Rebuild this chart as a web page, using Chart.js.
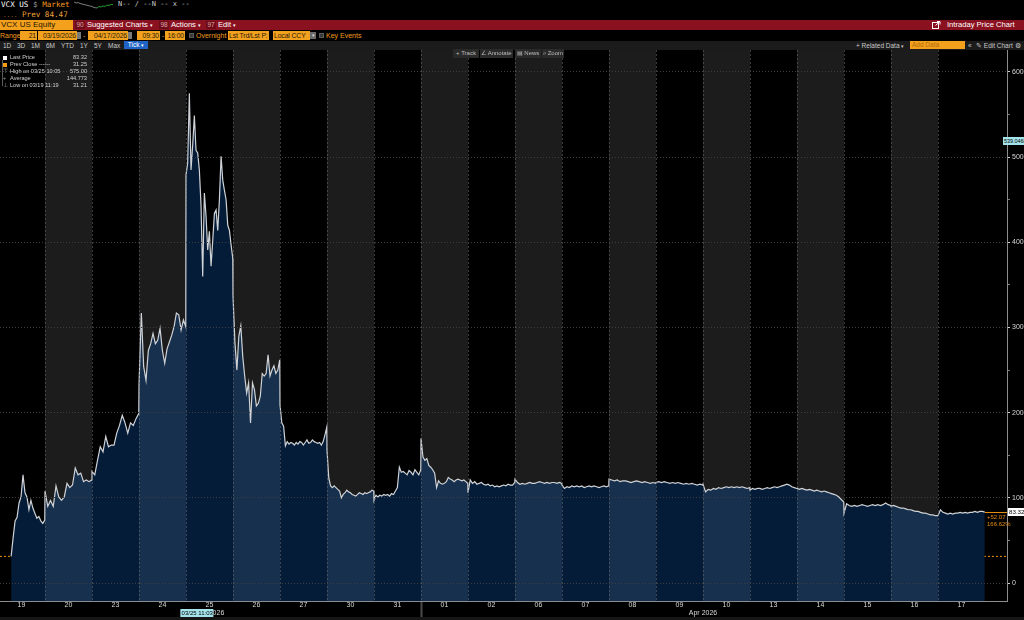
<!DOCTYPE html>
<html><head><meta charset="utf-8"><title>VCX US Intraday Price Chart</title>
<script src="https://cdn.jsdelivr.net/npm/chart.js@4.4.1/dist/chart.umd.min.js"></script>
<style>
html,body{margin:0;padding:0;background:#000}
body{width:1024px;height:620px;overflow:hidden;position:relative;font-family:'Liberation Sans',Arial,sans-serif}
.a{position:absolute;white-space:nowrap;line-height:1}
.m{font-family:'DejaVu Sans Mono',monospace}
.ob{position:absolute;top:31px;height:9px;background:#f2a11f;color:#2a1a05;font-size:6.8px;line-height:9px;text-align:right;padding:0 1px;white-space:nowrap;box-sizing:border-box;overflow:hidden;letter-spacing:-0.1px}
.ic{position:absolute;top:32px;width:4px;height:7px;background:#7a7a7a}
.or{position:absolute;top:31px;color:#f29b1c;font-size:7px;line-height:9px;white-space:nowrap}
.cb{position:absolute;top:33px;width:5px;height:5px;background:#3a3a3a;box-sizing:border-box;border:1px solid #5a5a5a}
.t5{position:absolute;top:42px;font-size:6.5px;color:#c9c9c9;line-height:7px;white-space:nowrap}
.btn{position:absolute;top:49px;height:9px;background:#2a2a2a;color:#bdbdbd;font-size:6px;line-height:9px;text-align:center;white-space:nowrap}
.tag{position:absolute;top:21px;height:8px;background:#6c0c18;color:#e3a7ae;font-size:6.5px;line-height:8px;text-align:center}
.rb{position:absolute;top:20px;font-size:7.6px;line-height:10px;color:#fff;white-space:nowrap}
.lg{position:absolute;left:0;font-size:5.6px;color:#d0d0d0;line-height:7px;width:87px;height:7px;white-space:nowrap}
.lg .k{position:absolute;left:10px;top:0}
.lg .v{position:absolute;right:0;top:0}
.lg .s{position:absolute;left:3px;top:2px;width:4px;height:4px}
.lg .g{position:absolute;left:3px;top:0;color:#9a9a9a}
#wrap{position:absolute;left:0;top:50px;width:1024px;height:570px}
.lab{position:absolute;white-space:nowrap;line-height:8px;font-size:6.6px}
</style></head>
<body>
<!-- header row 1 -->
<div class="a m" style="left:1px;top:1px;font-size:7.6px;color:#fff">VCX US <span style="color:#9a9a9a">$</span> <span style="color:#f39a1e">Market</span></div>
<svg class="a" style="left:73px;top:0" width="46" height="11"><polyline fill="none" stroke="#9a9a9a" stroke-width="0.8" points="1,2 3,3 5,2.5 7,3.5 9,4 11,4.5 13,5 15,5.5 17,6 19,6.5 21,7.5 24,8"/><polyline fill="none" stroke="#2fbf3a" stroke-width="0.8" points="24,8 26,6.5 28,7 30,6 32,6.5 34,5 36,5.5 38,4.5 40,4.5"/></svg>
<div class="a m" style="left:118px;top:1px;font-size:7px;color:#c8c8c8">N-- / --N -- x --</div>
<div class="a m" style="left:3px;top:12px;font-size:6px;color:#b0701a">....</div>
<div class="a m" style="left:22px;top:11px;font-size:7.6px;color:#f0a13a">Prev 84.47</div>
<!-- red bar -->
<div class="a" style="left:0;top:20px;width:1024px;height:10px;background:#8a1120"></div>
<div class="a" style="left:0;top:20px;width:73px;height:10px;background:#f3a11d;color:#1d1406;font-size:8px;line-height:10px;padding-left:1px;box-sizing:border-box">VCX US Equity</div>
<div class="tag" style="left:75px;width:10px">90</div>
<div class="rb" style="left:87px">Suggested Charts <span style="font-size:5px">▾</span></div>
<div class="tag" style="left:159px;width:10px">98</div>
<div class="rb" style="left:171px">Actions <span style="font-size:5px">▾</span></div>
<div class="tag" style="left:206px;width:10px">97</div>
<div class="rb" style="left:218px">Edit <span style="font-size:5px">▾</span></div>
<svg class="a" style="left:932px;top:21px" width="9" height="8"><rect x="0.5" y="1.5" width="6" height="6" fill="none" stroke="#fff" stroke-width="1"/><path d="M3.5 4.5 L8 0.5 M5 0.5 H8 V3.5" stroke="#fff" stroke-width="1" fill="none"/></svg>
<div class="rb" style="left:947px">Intraday Price Chart</div>
<!-- row 4 -->
<div class="or" style="left:0">Range</div>
<div class="ob" style="left:20px;width:17px">21</div>
<div class="ob" style="left:38px;width:39px">03/19/2026</div><div class="ic" style="left:77px"></div>
<div class="or" style="left:83px">-</div>
<div class="ob" style="left:88px;width:40px">04/17/2026</div><div class="ic" style="left:128px"></div>
<div class="ob" style="left:137px;width:23px">09:30</div>
<div class="or" style="left:162px">-</div>
<div class="ob" style="left:165px;width:20px">16:00</div>
<div class="cb" style="left:189px"></div><div class="or" style="left:196px">Overnight</div>
<div class="ob" style="left:228px;width:41px;text-align:left">Lst Trd/Lst P:</div>
<div class="ob" style="left:273px;width:37px;text-align:left">Local CCY</div><div class="ic" style="left:310px;width:6px;background:#6a6a6a;color:#ddd;font-size:5px;line-height:7px;text-align:center">▾</div>
<div class="cb" style="left:319px"></div><div class="or" style="left:326px">Key Events</div>
<!-- row 5 -->
<div class="a" style="left:0;top:41px;width:1024px;height:9px;background:#1b1b1b"></div>
<div class="t5" style="left:3px">1D</div><div class="t5" style="left:17px">3D</div><div class="t5" style="left:31px">1M</div><div class="t5" style="left:46px">6M</div><div class="t5" style="left:61px">YTD</div><div class="t5" style="left:80px">1Y</div><div class="t5" style="left:94px">5Y</div><div class="t5" style="left:108px">Max</div>
<div class="a" style="left:124px;top:41px;width:24px;height:8px;background:#1f64c4;color:#fff;font-size:6.5px;line-height:8px;text-align:center">Tick <span style="font-size:5px">▾</span></div>
<div class="t5" style="left:856px">+ Related Data <span style="font-size:5px">▾</span></div>
<div class="a" style="left:910px;top:41px;width:55px;height:8px;background:#f3a11d;color:#b06a10;font-size:6.5px;line-height:8px;padding-left:2px;box-sizing:border-box">Add Data</div>
<div class="t5" style="left:968px">«</div>
<div class="t5" style="left:976px">✎ Edit Chart</div>
<div class="t5" style="left:1015px">⚙</div>

<div id="wrap"><canvas id="c"></canvas></div>

<!-- chart tools -->
<div class="btn" style="left:453px;width:26px">+ Track</div>
<div class="btn" style="left:480px;width:33px">∠ Annotate</div>
<div class="btn" style="left:515px;width:26px">▤ News</div>
<div class="btn" style="left:542px;width:22px">⌕ Zoom</div>

<!-- legend -->
<div class="a" style="left:2px;top:60px;width:1px;height:26px;background:#5a5a5a"></div>
<div class="lg" style="top:54px"><span class="s" style="background:#fff"></span><span class="k">Last Price</span><span class="v">83.32</span></div>
<div class="lg" style="top:61px"><span class="s" style="background:#f39c12"></span><span class="k">Prev Close ------</span><span class="v">31.25</span></div>
<div class="lg" style="top:68px"><span class="g">⊤</span><span class="k">High on 03/25 10:05</span><span class="v">575.00</span></div>
<div class="lg" style="top:75px"><span class="g">+</span><span class="k">Average</span><span class="v">144.773</span></div>
<div class="lg" style="top:82px"><span class="g">⊥</span><span class="k">Low on 03/19 11:19</span><span class="v">31.21</span></div>

<!-- axis annotations, positioned from the scales -->
<div id="mon0" class="lab" style="color:#d8d8d8;font-size:7px"></div>
<div id="mon1" class="lab" style="color:#d8d8d8;font-size:7px"></div>
<div id="xhairT" class="lab" style="background:#a5e3ec;color:#000;padding:0 1px;font-size:6px"></div>
<div id="xhairV" class="lab" style="background:#a5e3ec;color:#000;padding:0 1px;font-size:5.4px;width:22px;overflow:hidden;box-sizing:border-box"></div>
<div id="lastLab" class="lab" style="background:#fff;color:#000;padding:0 1px;left:1008px;width:16px;overflow:hidden;box-sizing:border-box;font-size:6.2px"></div>
<div id="chgLab" class="lab" style="color:#e48c10;left:987px;font-size:6px"></div>
<div id="pctLab" class="lab" style="color:#e48c10;left:987px;font-size:6px"></div>

<script>
// ---- categories / labels ----
const dayLabels = ['19','20','23','24','25','26','27','30','31','01','02','06','07','08','09','10','13','14','15','16','17'];
const monthLabels = ['Mar 2026','Apr 2026'];
const monthFirstDay = [0, 9];
const sessionOpen = '09:30';
const firstTradeTime = '11:19';
const yTickValues = [0,50,100,150,200,250,300,350,400,450,500,550,600];

// ---- key values ----
const prevClose = 31.25;
const lastPrice = 83.32;
const netChange = '+52.07';
const pctChange = '166.62%';
const crosshairDay = 4, crosshairTime = '11:03', crosshairDate = '03/25 11:03';
const crosshairText = '539.0468', crosshairLevel = 519;

// ---- price series, one array per session (tick data sampled) ----
const d0319 = [31.21, 53, 73, 77, 94, 101, 127, 106, 101, 86, 97, 88, 82, 76, 78, 73, 70, 74];
const d0320 = [108, 90, 97, 90, 114, 101, 97, 101, 117, 112, 115, 135, 127, 129, 119, 121, 119, 121];
const d0323 = [131, 127, 144, 160, 154, 172, 160, 162, 162, 176, 185, 197, 188, 176, 188, 185, 193, 199];
const d0324 = [232, 317, 254, 238, 273, 281, 293, 281, 285, 299, 273, 258, 275, 283, 291, 301, 317, 315, 297, 309, 301];
const d0325 = [479, 493, 575, 485, 514, 549, 508, 505, 485, 443, 360, 458, 431, 391, 413, 372, 402, 434, 438, 414, 450, 501, 473, 461, 450, 420, 414, 397, 381];
const d0326 = [337, 282, 250, 290, 302, 266, 243, 223, 235, 188, 235, 227, 208, 211, 219, 246, 243, 246, 268, 243, 250, 255, 246, 250, 262];
const d0327 = [209, 188, 184, 161, 166, 163, 165, 164, 162, 165, 163, 166, 165, 162, 165, 168, 164, 165, 168, 166, 165, 164, 165, 162, 166, 174, 183];
const d0330 = [156, 123, 114, 112, 114, 112, 110, 108, 100, 104, 106, 109, 107, 106, 104, 103, 102, 104, 106, 105, 104, 106, 105, 106, 107, 109, 108];
const d0331 = [97, 103, 101, 103, 102, 104, 103, 104, 102, 105, 104, 108, 112, 136, 130, 131, 129, 127, 132, 130, 127, 133, 130, 127, 133];
const d0401 = [170, 148, 144, 146, 138, 136, 133, 129, 112, 120, 117, 116, 117, 119, 124, 122, 121, 119, 121, 122, 121, 120, 121, 119, 117];
const d0402 = [106, 121, 117, 119, 116, 117, 118, 116, 115, 116, 114, 115, 113, 114, 113, 114, 115, 114, 116, 115, 115, 118];
const d0406 = [122, 118, 116, 117, 116, 117, 118, 117, 117, 118, 119, 118, 117, 118, 117, 118, 118, 117, 118, 117];
const d0407 = [115, 111, 113, 112, 114, 113, 114, 113, 114, 112, 113, 114, 113, 114, 113, 112, 113, 114, 113, 114];
const d0408 = [122, 121, 120, 121, 119, 120, 120, 119, 118, 119, 120, 119, 118, 119, 118, 117, 118, 117];
const d0409 = [118, 119, 118, 119, 118, 117, 118, 117, 118, 117, 116, 117, 116, 117, 116, 115, 116, 115];
const d0410 = [116, 107, 110, 109, 111, 110, 112, 111, 112, 113, 112, 113, 112, 113, 112, 113, 112, 111, 112];
const d0413 = [109, 111, 110, 111, 111, 110, 111, 112, 111, 112, 113, 112, 113, 114, 115, 116, 115, 113, 112, 111];
const d0414 = [111, 110, 111, 110, 109, 110, 109, 108, 109, 108, 107, 108, 107, 106, 105, 104, 103, 101, 98, 95];
const d0415 = [82, 93, 91, 90, 91, 90, 91, 92, 91, 90, 91, 92, 91, 92, 91, 92, 94, 92, 91];
const d0416 = [90, 91, 90, 89, 88, 88, 87, 86, 86, 85, 84, 84, 83, 82, 82, 81, 80, 80, 79, 79];
const d0417 = [79, 86, 83, 82, 81, 82, 81, 82, 82, 83, 82, 83, 82, 83, 83, 84, 83, 84, 84, 83.32];
const sessions = [d0319,d0320,d0323,d0324,d0325,d0326,d0327,d0330,d0331,d0401,d0402,d0406,d0407,d0408,d0409,d0410,d0413,d0414,d0415,d0416,d0417];

// ---- build points in "session units" (1 unit = one 09:30-16:00 session) ----
function sessionFrac(t){ const p=t.split(':').map(Number); const o=sessionOpen.split(':').map(Number); return ((p[0]*60+p[1])-(o[0]*60+o[1]))/390; }
const pricePoints = [];
sessions.forEach((vals, i) => {
  const s = i === 0 ? sessionFrac(firstTradeTime) : 0, e = 0.995;
  vals.forEach((v, j) => pricePoints.push({x: i + s + (e - s) * j / (vals.length - 1), y: v}));
});

// view window
const X_MIN = 2/47, X_MAX = 21 + 22/47;
const Y_MIN = -21.13, Y_MAX = 625.83;

const FILL_DARK = '#041c38', FILL_LIGHT = '#17304d', STRIPE = '#1c1c1c';

function stripeFill(context){
  const chart = context.chart, area = chart.chartArea, xs = chart.scales.x;
  if (!area || !xs) return FILL_DARK;
  const g = chart.ctx.createLinearGradient(area.left, 0, area.right, 0);
  const w = area.right - area.left;
  const cl = v => Math.min(Math.max(v, 0), 1);
  for (let i = 0; i < dayLabels.length; i++) {
    const c = i % 2 ? FILL_LIGHT : FILL_DARK;
    g.addColorStop(cl((xs.getPixelForValue(i) - area.left) / w), c);
    g.addColorStop(cl((xs.getPixelForValue(i + 1) - area.left) / w), c);
  }
  return g;
}

const stripes = {
  id: 'stripes',
  beforeDatasetsDraw(chart){
    const {ctx, chartArea: a, scales: {x}} = chart;
    ctx.save();
    ctx.fillStyle = '#000'; ctx.fillRect(a.left, a.top, a.right - a.left, a.bottom - a.top);
    ctx.fillStyle = STRIPE;
    for (let i = 1; i < dayLabels.length; i += 2) {
      const x0 = Math.max(x.getPixelForValue(i), a.left), x1 = Math.min(x.getPixelForValue(i + 1), a.right);
      ctx.fillRect(x0, a.top, x1 - x0, a.bottom - a.top);
    }
    ctx.restore();
  },
  afterDatasetsDraw(chart){
    const {ctx, chartArea: a, scales: {x}} = chart;
    ctx.save();
    ctx.strokeStyle = 'rgba(105,105,105,0.55)'; ctx.lineWidth = 1; ctx.setLineDash([2,2]);
    for (let i = 1; i < dayLabels.length; i++) {
      const px = Math.round(x.getPixelForValue(i)) + 0.5;
      ctx.beginPath(); ctx.moveTo(px, a.top); ctx.lineTo(px, a.bottom); ctx.stroke();
    }
    ctx.restore();
  },
  afterDraw(chart){
    const {ctx, chartArea: a, scales: {x, y}} = chart;
    ctx.save();
    ctx.strokeStyle = '#8c8c8c'; ctx.lineWidth = 1;
    ctx.beginPath(); ctx.moveTo(a.left, a.bottom + 0.5); ctx.lineTo(a.right + 1, a.bottom + 0.5); ctx.stroke();
    ctx.beginPath(); ctx.moveTo(a.right + 0.5, 0); ctx.lineTo(a.right + 0.5, a.bottom); ctx.stroke();
    const mx = Math.round(x.getPixelForValue(monthFirstDay[1])) + 0.5;
    ctx.strokeStyle = '#4a4a4a'; ctx.lineWidth = 2;
    ctx.beginPath(); ctx.moveTo(mx, a.bottom + 1); ctx.lineTo(mx, chart.height); ctx.stroke();
    const ly = Math.round(y.getPixelForValue(lastPrice)) + 0.5;
    ctx.strokeStyle = '#e48c10'; ctx.lineWidth = 1;
    ctx.beginPath(); ctx.moveTo(x.getPixelForValue(dayLabels.length), ly); ctx.lineTo(a.right, ly); ctx.stroke();
    ctx.fillStyle = '#161616'; ctx.fillRect(0, chart.height - 3, chart.width, 3);
    ctx.restore();
  }
};

const chart = new Chart(document.getElementById('c'), {
  type: 'line',
  data: {
    datasets: [
      { data: pricePoints, borderColor: '#cfd2d6', borderWidth: 1.2, pointRadius: 0, tension: 0,
        fill: 'start', backgroundColor: stripeFill },
      { data: [{x: X_MIN, y: prevClose}, {x: X_MAX, y: prevClose}], borderColor: '#e8900f', borderWidth: 1,
        borderDash: [2, 2], pointRadius: 0, fill: false }
    ]
  },
  options: {
    animation: false, responsive: true, maintainAspectRatio: false,
    layout: { padding: 0 },
    events: [],
    plugins: { legend: { display: false }, tooltip: { enabled: false } },
    scales: {
      x: {
        type: 'linear', min: X_MIN, max: X_MAX,
        afterBuildTicks(s){ s.ticks = dayLabels.map((l, i) => ({value: i + 0.5})); },
        afterFit(s){ s.height = 19; s.paddingLeft = 0; s.paddingRight = 0; },
        ticks: { autoSkip: false, maxRotation: 0, padding: 0, color: '#d8d8d8',
                 font: { family: 'Liberation Sans', size: 7 }, callback: (v, i) => dayLabels[i] },
        grid: { display: false, drawTicks: false },
        border: { display: false }
      },
      y: {
        position: 'right', min: Y_MIN, max: Y_MAX,
        afterBuildTicks(s){ s.ticks = yTickValues.map(v => ({value: v})); },
        afterFit(s){ s.width = 17; s.paddingTop = 0; s.paddingBottom = 0; },
        ticks: { autoSkip: false, padding: 2, color: '#d8d8d8', font: { family: 'Liberation Sans', size: 7 },
                 callback: v => (v % 100 === 0 ? String(v) : '') },
        grid: { z: 1, lineWidth: 1, tickLength: 3,
                color: c => (c.tick && c.tick.value % 100 === 0 ? '#3d3d3d' : 'rgba(0,0,0,0)'),
                tickColor: c => (c.tick && c.tick.value % 100 === 0 ? '#d0d0d0' : '#7a7a7a') },
        border: { display: false, dash: [1, 2] }
      }
    }
  },
  plugins: [stripes]
});

// ---- position text annotations from the scales ----
(function place(){
  const xs = chart.scales.x, ys = chart.scales.y, T = 50;
  const m0 = document.getElementById('mon0'), m1 = document.getElementById('mon1');
  const bounds = [[monthFirstDay[0], monthFirstDay[1]], [monthFirstDay[1], dayLabels.length]];
  [m0, m1].forEach((el, k) => {
    el.textContent = monthLabels[k];
    const cx = (xs.getPixelForValue(bounds[k][0]) + xs.getPixelForValue(bounds[k][1])) / 2;
    el.style.left = cx + 'px'; el.style.top = (T + ys.bottom + 8) + 'px'; el.style.transform = 'translateX(-50%)';
  });
  const ht = document.getElementById('xhairT');
  ht.textContent = crosshairDate;
  ht.style.left = xs.getPixelForValue(crosshairDay + sessionFrac(crosshairTime)) + 'px';
  ht.style.transform = 'translateX(-50%)'; ht.style.top = (T + ys.bottom + 8) + 'px';
  const hv = document.getElementById('xhairV');
  hv.textContent = crosshairText;
  hv.style.left = (xs.right - 4) + 'px'; hv.style.top = (T + ys.getPixelForValue(crosshairLevel) - 4) + 'px';
  const ly = T + ys.getPixelForValue(lastPrice);
  const ll = document.getElementById('lastLab'); ll.textContent = lastPrice.toFixed(2); ll.style.top = (ly - 4) + 'px';
  const cl = document.getElementById('chgLab'); cl.textContent = netChange; cl.style.top = (ly + 1) + 'px';
  const pl = document.getElementById('pctLab'); pl.textContent = pctChange; pl.style.top = (ly + 8) + 'px';
})();
</script>
</body></html>
